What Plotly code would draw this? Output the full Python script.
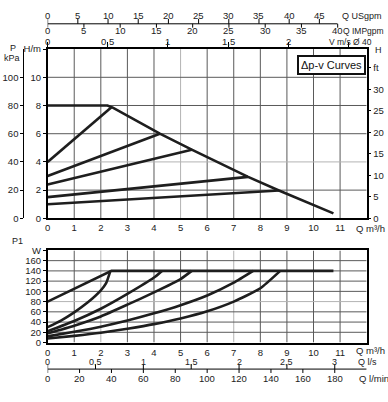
import plotly.graph_objects as go

# ---------------- data ----------------
# Top chart: head H (m) vs flow Q (m3/h)
max_q = [0, 2.25, 2.45, 4.22, 5.42, 7.54, 8.7, 10.75]
max_h = [8.0, 8.0, 7.85, 6.0, 4.87, 2.94, 1.97, 0.35]
dpv_q_end = [2.4, 4.22, 5.42, 7.54, 8.7]
dpv_h_start = [4.0, 3.0, 2.4, 1.5, 1.0]
dpv_h_end = [7.87, 6.0, 4.87, 2.94, 1.97]

# Bottom chart: power P1 (W) vs flow Q (m3/h)
p_max_q = [0, 2.4, 10.75]
p_max_w = [80, 140, 140]
p1_q = [0, 0.5, 1, 1.5, 2, 2.2, 2.36]
p1_w = [30, 43, 59, 78, 102, 116, 140]
p2_q = [0, 1, 2, 3, 4, 4.3]
p2_w = [22, 42, 66, 95, 127, 140]
p3_q = [0, 1, 2, 3, 4, 5, 5.42]
p3_w = [18, 33, 51, 74, 98, 124, 140]
p4_q = [0, 1, 2, 3, 4, 5, 6, 7, 7.73]
p4_w = [12, 21, 31, 43, 57, 73, 92, 117, 140]
p5_q = [0, 1, 2, 3, 4, 5, 6, 7, 8, 8.75]
p5_w = [8, 13, 19, 27, 36, 47, 61, 80, 106, 140]

q_ticks = list(range(0, 12))
h_ticks = [0, 2, 4, 6, 8, 10, 12]
h_labels = ["0", "2", "4", "6", "8", "10", "H/m"]
kpa_ticks = [0, 20, 40, 60, 80, 100]
ft_ticks = [0, 5, 10, 15, 20, 25, 30, 35]
ft_labels = ["0", "5", "10", "15", "20", "25", "30", "ft"]
v_ticks = [0, 0.5, 1, 1.5, 2, 2.5]
v_labels = ["0", "0,5", "1", "1,5", "2", ""]
usg_ticks = [0, 5, 10, 15, 20, 25, 30, 35, 40, 45]
imp_ticks = [0, 5, 10, 15, 20, 25, 30, 35, 40]
w_ticks = [0, 20, 40, 60, 80, 100, 120, 140, 160, 180]
w_labels = ["0", "20", "40", "60", "80", "100", "120", "140", "160", "W"]
ls_ticks = [0, 0.5, 1, 1.5, 2, 2.5, 3]
ls_labels = ["0", "0,5", "1", "1,5", "2", "2,5", "3"]
lmin_ticks = [0, 20, 40, 60, 80, 100, 120, 140, 160, 180]

# unit conversions
US_PER_M3H = 4.40287
IMP_PER_M3H = 3.66615
V_PER_M3H = 1 / 3600 / (3.14159265 * 0.04 ** 2 / 4)
FT_PER_M = 3.28084
LS_PER_M3H = 1 / 3.6
LMIN_PER_M3H = 1000 / 60

# ---------------- layout helpers ----------------
W, H = 388, 402
def fx(x): return x / W
def fy(y): return 1 - y / H

XL, XR = 45, 366.5
QMAX = 12
HMAX = 12
WMAX = 180
TOP = (44.3, 218.3)
BOT = (251.3, 346.0)
Q_GPM_END = 10.9

FONT = "Liberation Sans Narrow, Arial Narrow, Liberation Sans, Arial, sans-serif"
LC = "#1e1e1e"
GRID = "#5a5a5a"
LIGHT = "#b4b4b4"
FS = 9.5
tf = dict(family=FONT, size=FS, color="#222")

fig = go.Figure()

# top chart curves
fig.add_trace(go.Scatter(x=max_q, y=max_h, mode="lines",
                         line=dict(color=LC, width=2.6), xaxis="x", yaxis="y"))
for qe, hs, he in zip(dpv_q_end, dpv_h_start, dpv_h_end):
    fig.add_trace(go.Scatter(x=[0, qe], y=[hs, he], mode="lines",
                             line=dict(color=LC, width=2.6), xaxis="x", yaxis="y"))

# bottom chart curves
fig.add_trace(go.Scatter(x=p_max_q, y=p_max_w, mode="lines",
                         line=dict(color=LC, width=2.6), xaxis="x2", yaxis="y2"))
for qq, ww in [(p1_q, p1_w), (p2_q, p2_w), (p3_q, p3_w), (p4_q, p4_w), (p5_q, p5_w)]:
    fig.add_trace(go.Scatter(x=qq, y=ww, mode="lines", line_shape="spline",
                             line=dict(color=LC, width=2.6, smoothing=0.5),
                             xaxis="x2", yaxis="y2"))

# invisible traces so that the secondary axes are created and drawn
for xa, ya in [("x3", "y"), ("x", "y3"), ("x", "y4")]:
    fig.add_trace(go.Scatter(x=[0], y=[0], mode="markers", marker=dict(opacity=0),
                             hoverinfo="skip", xaxis=xa, yaxis=ya))

dom_x = [fx(XL), fx(XR)]

def ax(**kw):
    d = dict(tickfont=tf, showline=True, linecolor="black", zeroline=False,
             ticklen=3, tickcolor="black", tickwidth=1, showgrid=False)
    d.update(kw)
    return d

fig.update_layout(
    width=W, height=H, margin=dict(l=0, r=0, t=0, b=0),
    paper_bgcolor="white", plot_bgcolor="white", showlegend=False,
    # top chart
    xaxis=ax(domain=dom_x, range=[0, QMAX], anchor="y", tickvals=q_ticks,
             ticks="", linewidth=1.5),
    yaxis=ax(domain=[fy(TOP[1]), fy(TOP[0])], range=[0, HMAX], anchor="x",
             tickvals=h_ticks, ticktext=h_labels, ticks="outside", linewidth=1.5),
    yaxis3=ax(overlaying="y", anchor="free", position=fx(20.5), side="left",
              range=[0, HMAX * 10], tickvals=kpa_ticks, ticks="outside", linewidth=1),
    yaxis4=ax(overlaying="y", anchor="x", side="right",
              range=[0, HMAX * FT_PER_M], tickvals=ft_ticks, ticktext=ft_labels,
              ticks="outside", linewidth=1.5),
    xaxis3=ax(overlaying="x", anchor="y", side="top",
              range=[0, QMAX * V_PER_M3H], tickvals=v_ticks, showticklabels=False,
              ticks="outside", linewidth=1.5, ticklen=5),
    # bottom chart
    xaxis2=ax(domain=dom_x, range=[0, QMAX], anchor="y2", tickvals=q_ticks,
              ticks="", mirror=True, linewidth=1.5),
    yaxis2=ax(domain=[fy(BOT[1]), fy(BOT[0])], range=[0, WMAX], anchor="x2",
              tickvals=w_ticks, ticktext=w_labels, ticks="outside", mirror=True,
              linewidth=1.5),
)

shapes = []
# grid (drawn in data coordinates)
for q in range(1, QMAX):
    shapes.append(dict(type="line", xref="x", yref="y", x0=q, x1=q, y0=0, y1=HMAX,
                       line=dict(color=LIGHT if q == 5 else GRID, width=1), layer="below"))
    shapes.append(dict(type="line", xref="x2", yref="y2", x0=q, x1=q, y0=0, y1=WMAX,
                       line=dict(color=LIGHT if q in (2, 7) else GRID, width=1), layer="below"))
for h in range(2, HMAX, 2):
    shapes.append(dict(type="line", xref="x", yref="y", x0=0, x1=QMAX, y0=h, y1=h,
                       line=dict(color=LIGHT if h == 4 else GRID, width=1), layer="below"))
for w in range(20, WMAX, 20):
    shapes.append(dict(type="line", xref="x2", yref="y2", x0=0, x1=QMAX, y0=w, y1=w,
                       line=dict(color=LIGHT if w == 80 else GRID, width=1), layer="below"))

annots = []
def ann(text, x, y, xanchor="left", size=FS, xref="paper", pad=1):
    annots.append(dict(text=text, x=x, y=fy(y), xref=xref, yref="paper",
                       xanchor=xanchor, yanchor="middle", showarrow=False, borderpad=pad,
                       font=dict(family=FONT, size=size, color="#222")))

# velocity scale labels (ticks come from xaxis3)
for v, t in zip(v_ticks, v_labels):
    if t:
        ann(t, v / V_PER_M3H, 36.5, "center", xref="x")

# auxiliary flow scales (US gpm / IMP gpm above, l/s / l/min below) positioned on the Q axis
GPM_Y, LS_Y = 18.3, 373.3
shapes.append(dict(type="line", xref="x", yref="paper", x0=0, x1=Q_GPM_END,
                   y0=fy(GPM_Y), y1=fy(GPM_Y), line=dict(color="black", width=1)))
for g in usg_ticks:
    q = g / US_PER_M3H
    shapes.append(dict(type="line", xref="x", yref="paper", x0=q, x1=q,
                       y0=fy(GPM_Y), y1=fy(GPM_Y - 5), line=dict(color="black", width=1)))
    ann(str(g), q, 9.5, "center", xref="x")
for g in imp_ticks:
    q = g / IMP_PER_M3H
    shapes.append(dict(type="line", xref="x", yref="paper", x0=q, x1=q,
                       y0=fy(GPM_Y), y1=fy(GPM_Y + 4), line=dict(color="black", width=1)))
    ann(str(g), q, 25.5, "center", xref="x")

shapes.append(dict(type="line", xref="x2", yref="paper", x0=0, x1=QMAX,
                   y0=fy(LS_Y), y1=fy(LS_Y), line=dict(color="black", width=1)))
for v, t in zip(ls_ticks, ls_labels):
    q = v / LS_PER_M3H
    shapes.append(dict(type="line", xref="x2", yref="paper", x0=q, x1=q,
                       y0=fy(LS_Y), y1=fy(LS_Y - 5), line=dict(color="black", width=1)))
    ann(t, q, 366.3, "center", size=9, xref="x2", pad=0)
for v in lmin_ticks:
    q = v / LMIN_PER_M3H
    shapes.append(dict(type="line", xref="x2", yref="paper", x0=q, x1=q,
                       y0=fy(LS_Y), y1=fy(LS_Y + 4), line=dict(color="black", width=1)))
    ann(str(v), q, 383, "center", xref="x2")

ann("Q USgpm", fx(340), 10, size=9)
ann("Q IMPgpm", fx(386), 25.5, "right", 8.5)
ann("V m/s Ø 40", fx(350.5), 36.5, "center", 8.5)
ann("P", fx(10), 43, "center", 9)
ann("kPa", fx(9.5), 53, "center", 9)
ann("H", fx(373), 45, "left", 9)
ann("Q m³/h", fx(355), 229, pad=0)
ann("P1", fx(15), 242, "center", 9)
ann("Q m³/h", fx(355), 354.5, pad=0)
ann("Q l/s", fx(357), 366.3, size=9, pad=0)
ann("Q l/min", fx(357), 383)

annots.append(dict(text="Δp-v Curves", x=fx(331.5), y=fy(61), xref="paper", yref="paper",
                   showarrow=False, xanchor="center", yanchor="middle",
                   font=dict(family=FONT, size=11, color="#111"),
                   bordercolor="#111", borderwidth=2, borderpad=2, bgcolor="white"))

fig.update_layout(shapes=shapes, annotations=annots)

fig.write_html("out.html", config={"displayModeBar": False},
               post_script="document.body.style.margin='0';document.body.style.overflow='hidden';")
